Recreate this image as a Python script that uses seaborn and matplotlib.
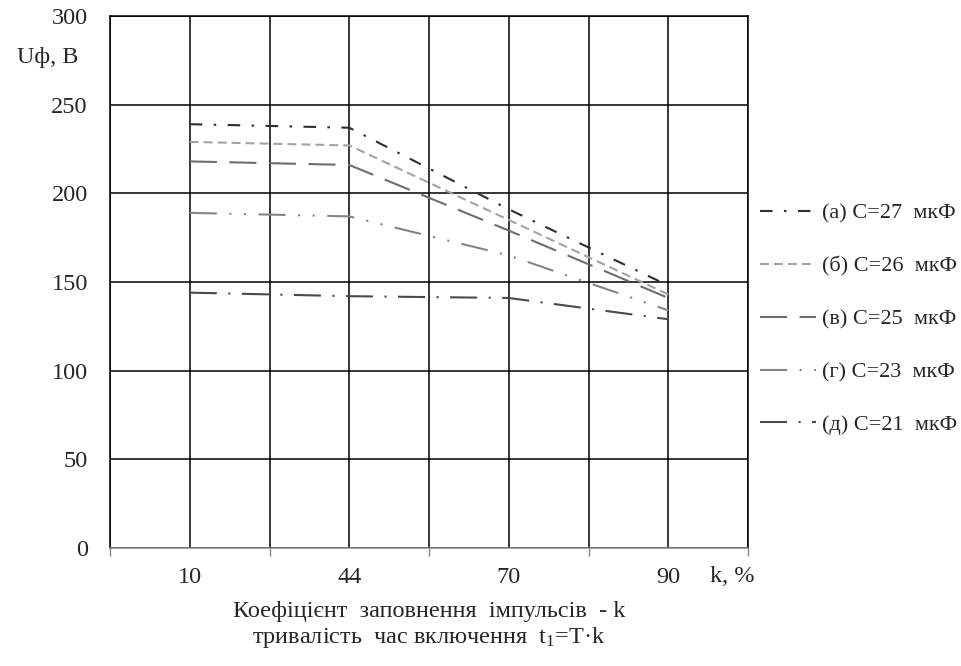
import pandas as pd
import numpy as np
import seaborn as sns
import matplotlib.pyplot as plt
from matplotlib.ticker import FixedLocator

# data
k_labels = ['10', '44', '70', '90']
u_a = [239, 237, 191, 148]
u_b = [229, 227, 185, 143]
u_c = [218, 216, 179, 141]
u_d = [189, 187, 165, 134]
u_e = [144, 142, 141, 129]
series_names = ['(а) С=27  мкФ', '(б) С=26  мкФ', '(в) С=25  мкФ',
                '(г) С=23  мкФ', '(д) С=21  мкФ']


def make_plot():
    sns.set_theme(style='white')
    plt.rcParams['font.family'] = ['Liberation Serif', 'DejaVu Serif']
    plt.rcParams['mathtext.default'] = 'regular'
    fs = 17.5

    # long form table for seaborn
    rows = []
    for name, vals in zip(series_names, [u_a, u_b, u_c, u_d, u_e]):
        for i, v in enumerate(vals):
            rows.append({'k': i, 'U': v, 'series': name})
    df = pd.DataFrame(rows)

    colors = ['#2e2e2e', '#a3a3a3', '#6e6e6e', '#858585', '#4a4a4a']
    dashes = [(6, 5.5, 1.2, 5.5), (4.3, 2.4), (13, 6),
              (13, 6, 1, 6, 1, 6), (13, 5.5, 1, 5.5)]

    fig = plt.figure(figsize=(9.62, 6.66), dpi=100)
    ax = fig.add_axes([110 / 962, 1 - 548 / 666, 638 / 962, 532 / 666])

    sns.lineplot(data=df, x='k', y='U', hue='series', style='series',
                 palette=dict(zip(series_names, colors)),
                 dashes=dict(zip(series_names, dashes)),
                 linewidth=1.5, ax=ax, legend=False)

    ax.set_xlim(-0.5, 3.5)
    ax.set_ylim(0, 300)
    ax.set_yticks(np.arange(0, 301, 50))
    ax.set_xticks(range(len(k_labels)))
    ax.set_xticklabels(k_labels)
    ax.xaxis.set_minor_locator(FixedLocator([-0.5, 0.5, 1.5, 2.5, 3.5]))

    ax.grid(True, which='both', color='black', linewidth=1.1)
    ax.tick_params(axis='x', which='major', length=0, pad=14, labelsize=fs)
    ax.tick_params(axis='x', which='minor', length=6, width=1,
                   color='#888888', direction='out', bottom=True)
    ax.tick_params(axis='y', length=0, pad=16, labelsize=fs)
    for s in ['top', 'left', 'right']:
        ax.spines[s].set_color('black')
        ax.spines[s].set_linewidth(1.1)
    ax.spines['bottom'].set_color('#888888')
    ax.spines['bottom'].set_linewidth(1.1)

    ax.set_ylabel('')
    ax.set_xlabel('Коефіцієнт  заповнення  імпульсів  - k\n'
                  'тривалість  час включення  t$_1$=T·k',
                  fontsize=fs, labelpad=9, linespacing=1.15)
    fig.text(48 / 962, 1 - 58 / 666, 'Uф, В', fontsize=fs,
             ha='center', va='center')
    fig.text(732 / 962, 1 - 576 / 666, 'k, %', fontsize=fs,
             ha='center', va='center')

    # legend to the right of the grid
    handles = [plt.Line2D([], [], color=c, linewidth=1.5, dashes=d)
               for c, d in zip(colors, dashes)]
    ax.legend(handles, series_names, loc='center left',
              bbox_to_anchor=(1.0, 0.43), frameon=False, fontsize=16,
              handlelength=2.5, handletextpad=0.3, labelspacing=1.45,
              borderaxespad=0.15)

    fig.savefig('out.png', dpi=100)


def main():
    make_plot()


if __name__ == "__main__":
    main()
